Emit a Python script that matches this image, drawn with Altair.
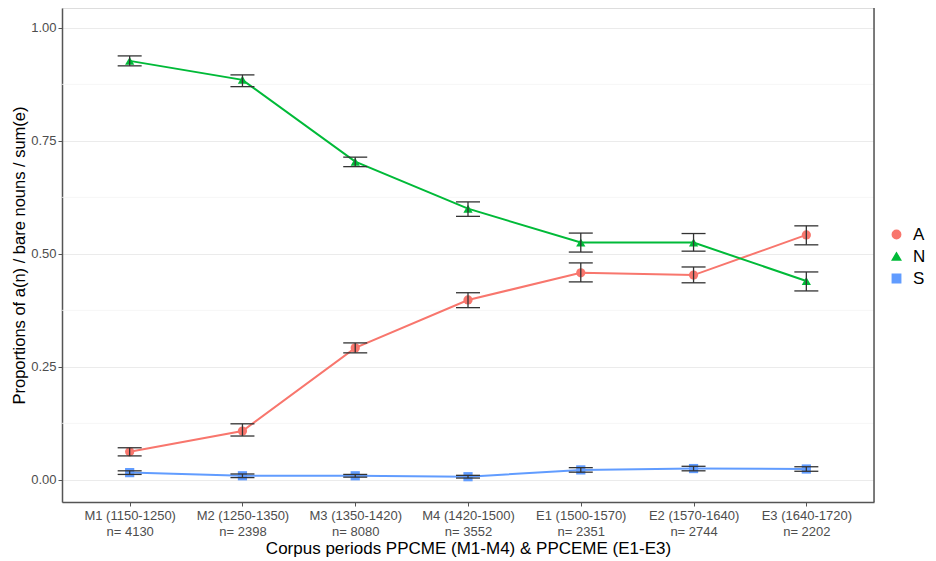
import altair as alt
import pandas as pd

periods = ["M1 (1150-1250)", "M2 (1250-1350)", "M3 (1350-1420)", "M4 (1420-1500)",
           "E1 (1500-1570)", "E2 (1570-1640)", "E3 (1640-1720)"]
ns = [4130, 2398, 8080, 3552, 2351, 2744, 2202]
groups = ["A", "N", "S"]

A_mean = [0.062, 0.108, 0.292, 0.398, 0.458, 0.453, 0.542]
A_lo = [0.053, 0.097, 0.281, 0.381, 0.438, 0.436, 0.520]
A_hi = [0.071, 0.124, 0.303, 0.414, 0.480, 0.471, 0.562]

N_mean = [0.927, 0.885, 0.704, 0.600, 0.525, 0.525, 0.440]
N_lo = [0.916, 0.870, 0.693, 0.583, 0.504, 0.506, 0.418]
N_hi = [0.938, 0.896, 0.714, 0.615, 0.546, 0.545, 0.460]

S_mean = [0.016, 0.009, 0.009, 0.007, 0.022, 0.025, 0.024]
S_lo = [0.012, 0.005, 0.006, 0.004, 0.017, 0.020, 0.019]
S_hi = [0.020, 0.013, 0.012, 0.010, 0.027, 0.030, 0.029]

minor_breaks = [0.125, 0.375, 0.625, 0.875]

series = {"A": (A_mean, A_lo, A_hi), "N": (N_mean, N_lo, N_hi), "S": (S_mean, S_lo, S_hi)}
labels = [f"{p}\nn= {n}" for p, n in zip(periods, ns)]

rows = []
for g in groups:
    m, lo, hi = series[g]
    for i, lab in enumerate(labels):
        rows.append({"period": lab, "group": g, "mean": m[i], "lo": lo[i], "hi": hi[i]})
df = pd.DataFrame(rows)

FONT = "Liberation Sans, Arial, sans-serif"
W, H = 812, 494

xenc = alt.X("period:N", sort=labels, scale=alt.Scale(type="point", padding=0.6),
             axis=alt.Axis(title="Corpus periods PPCME (M1-M4) & PPCEME (E1-E3)",
                           labelExpr="split(datum.label, '\\n')", labelAngle=0,
                           labelColor="#4D4D4D", labelFontSize=13, labelLineHeight=16,
                           labelFont=FONT, tickColor="#555555", tickSize=4, labelPadding=3,
                           domainColor="#555555", domainWidth=1.5, gridColor="#EBEBEB",
                           titleFont=FONT, titleFontSize=17, titleFontWeight="normal",
                           titleColor="#000000", titlePadding=2))
yscale = alt.Scale(domain=[-0.049, 1.044], nice=False, zero=False)
yaxis = alt.Axis(title="Proportions of a(n) / bare nouns / sum(e)", values=[0, 0.25, 0.5, 0.75, 1.0],
                 format=".2f", labelColor="#4D4D4D", labelFontSize=13, labelFont=FONT,
                 tickColor="#555555", tickSize=4, domainColor="#555555", domainWidth=1.5,
                 gridColor="#EBEBEB", titleFont=FONT, titleFontSize=16.5, titleFontWeight="normal",
                 titleColor="#000000", titlePadding=3)

legend = alt.Legend(title=None, orient="none", legendX=826, legendY=218,
                    labelFontSize=17, labelFont=FONT, labelColor="#000000",
                    symbolSize=70, rowPadding=4, labelOffset=8)
color = alt.Color("group:N", scale=alt.Scale(domain=groups, range=["#F8766D", "#00BA38", "#619CFF"]),
                  legend=legend)
shape = alt.Shape("group:N", scale=alt.Scale(domain=groups, range=["circle", "triangle-up", "square"]),
                  legend=legend)

base = alt.Chart(df)

minor = alt.Chart(pd.DataFrame({"y": minor_breaks})).mark_rule(color="#F4F4F4", strokeWidth=0.8).encode(
    y=alt.Y("y:Q", scale=yscale, axis=yaxis))
lines = base.mark_line(strokeWidth=2).encode(x=xenc, y=alt.Y("mean:Q", scale=yscale, axis=yaxis), color=color)
points = base.mark_point(filled=True, opacity=1, size=85).encode(
    x=xenc, y=alt.Y("mean:Q", scale=yscale, axis=yaxis), color=color, shape=shape)
err = base.mark_rule(color="#333333", strokeWidth=1.3).encode(
    x=xenc, y=alt.Y("lo:Q", scale=yscale, axis=yaxis), y2="hi:Q")
cap_lo = base.mark_tick(color="#333333", size=24, thickness=1.3, opacity=1).encode(
    x=xenc, y=alt.Y("lo:Q", scale=yscale, axis=yaxis))
cap_hi = base.mark_tick(color="#333333", size=24, thickness=1.3, opacity=1).encode(
    x=xenc, y=alt.Y("hi:Q", scale=yscale, axis=yaxis))
border = alt.Chart(pd.DataFrame({"k": [0]})).mark_rule(color="#555555", strokeWidth=1.5).encode(
    x=alt.value(W), y=alt.value(0), y2=alt.value(H))

chart = alt.layer(minor, lines, points, err, cap_lo, cap_hi, border).properties(
    width=W, height=H,
    autosize=alt.AutoSizeParams(type="none"),
    padding={"left": 54, "top": 0, "right": 54, "bottom": 58},
).configure_view(stroke=None).configure_axisX(grid=True).configure(background="white")

chart.save("out.html", embed_options={"renderer": "svg", "actions": False})
